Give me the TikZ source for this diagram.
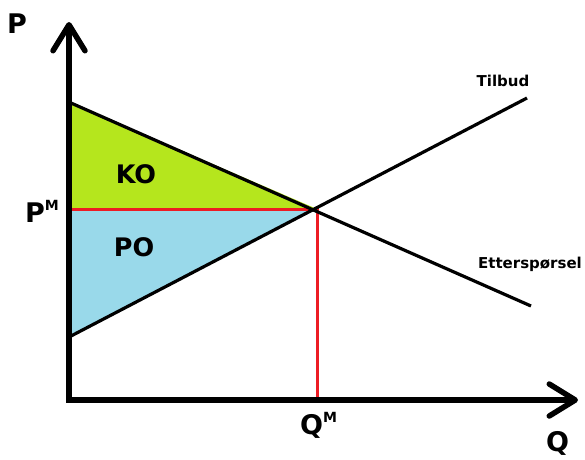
\documentclass[tikz,border=0pt]{standalone}
\usepackage{fontspec}
\setmainfont{DejaVu Sans}
\usetikzlibrary{arrows.meta}

\definecolor{kogreen}{RGB}{181,230,29}
\definecolor{poblue}{RGB}{153,217,234}
\definecolor{mred}{RGB}{237,28,36}

\begin{document}
\begin{tikzpicture}[x=1pt,y=-1pt,
    axis/.style={line width=5.5pt,line join=miter,
      {Straight Barb[length=26pt,width=32pt,round]}-{Straight Barb[length=26pt,width=32pt,round]}},
    curve/.style={line width=3.2pt},
    guide/.style={mred,line width=3pt},
    lbl/.style={font=\bfseries\fontsize{15}{17}\selectfont,inner sep=0pt,anchor=base},
    area/.style={font=\bfseries\fontsize{25.5}{28}\selectfont,inner sep=0pt,anchor=base},
    axlbl/.style={font=\bfseries\fontsize{27}{30}\selectfont,inner sep=0pt,anchor=base west}]
  \useasboundingbox (0,0) rectangle (585,459);
  \coordinate (O) at (69,400);
  \coordinate (ytop) at (69,22);
  \coordinate (xend) at (578,400);
  \coordinate (E) at (317,209);
  \coordinate (D1) at (71,103);
  \coordinate (D2) at (531,306);
  \coordinate (S1) at (71,336);
  \coordinate (S2) at (527,98);
  \coordinate (PM) at (69,209);
  \coordinate (QM) at (317,400);

  % surplus areas
  \fill[kogreen] (D1) -- (E) -- (PM) -- cycle;
  \fill[poblue] (PM) -- (E) -- (S1) -- cycle;
  \draw[guide] (PM) -- (E) -- (QM);

  % supply and demand
  \draw[curve] (D1) -- (D2);
  \draw[curve] (S1) -- (S2);
  \draw[axis] (ytop) -- (O) -- (xend);

  \node[axlbl] (plbl) at (7,33) {P};
  \node[axlbl] (qlbl) at (546,451) {Q};
  \node[axlbl] (pmlbl) at (25,222) {P\raisebox{0.42em}{\fontsize{14}{14}\selectfont M}};
  \node[axlbl] (qmlbl) at (300,434) {Q\raisebox{0.42em}{\fontsize{14}{14}\selectfont M}};
  \node[area] (ko) at (136,183) {KO};
  \node[area] (po) at (134,256) {PO};
  \node[lbl] (tilbud) at (503,86) {Tilbud};
  \node[lbl] (ettersp) at (530,268) {Etterspørsel};
\end{tikzpicture}
\end{document}
